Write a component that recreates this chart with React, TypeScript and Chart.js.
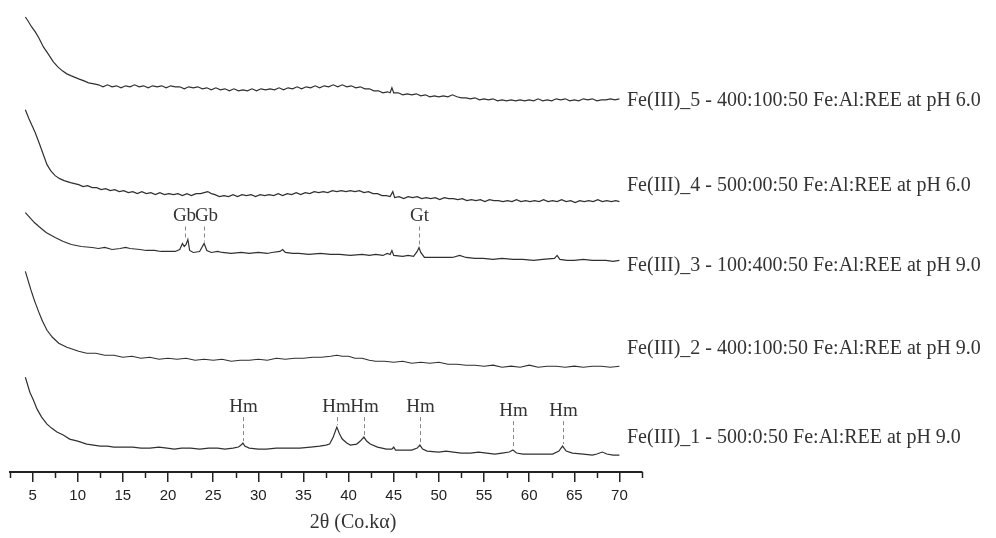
import React, { useEffect, useRef } from "react";
import { Chart, registerables } from "chart.js";

Chart.register(...registerables);

// ---- Data (2θ in degrees, intensity in arbitrary units, stacked offsets included) ----
const twoThetaMin = 2.5;
const twoThetaMax = 72.5;
const tickValues = [5, 10, 15, 20, 25, 30, 35, 40, 45, 50, 55, 60, 65, 70];
const minorTickValues = [2.5, 7.5, 12.5, 17.5, 22.5, 27.5, 32.5, 37.5, 42.5, 47.5, 52.5, 57.5, 62.5, 67.5, 72.5];

const seriesNames = [
  "Fe(III)_5 - 400:100:50 Fe:Al:REE at pH 6.0",
  "Fe(III)_4 - 500:00:50 Fe:Al:REE at pH 6.0",
  "Fe(III)_3 - 100:400:50 Fe:Al:REE at pH 9.0",
  "Fe(III)_2 - 400:100:50 Fe:Al:REE at pH 9.0",
  "Fe(III)_1 - 500:0:50 Fe:Al:REE at pH 9.0",
];

const fe5: [number, number][] = [
  [4.2, 456], [4.5, 452], [4.9, 446], [5.3, 441], [5.7, 435], [6.2, 426], [6.8, 418], [7.3, 411],
  [7.8, 406], [8.3, 402], [8.8, 399], [9.3, 397], [10.1, 394], [10.7, 392], [11.2, 390], [11.8, 389],
  [12.3, 388], [12.8, 386], [13.3, 388], [13.8, 386], [14.3, 387], [14.8, 385], [15.3, 387], [15.8, 386],
  [16.3, 388], [16.8, 386], [17.3, 387], [17.8, 385], [18.3, 387], [18.8, 386], [19.3, 387], [19.8, 385],
  [20.3, 387], [20.8, 386], [21.3, 386], [21.8, 384], [22.3, 386], [22.8, 385], [23.3, 386], [23.8, 384],
  [24.3, 385], [24.8, 383], [25.3, 385], [25.8, 383], [26.3, 384], [26.8, 382], [27.3, 384], [27.8, 382],
  [28.3, 383], [28.8, 382], [29.3, 384], [29.8, 382], [30.3, 384], [30.8, 383], [31.3, 384], [31.8, 383],
  [32.3, 385], [32.8, 383], [33.3, 385], [33.8, 384], [34.3, 386], [34.8, 384], [35.3, 386], [35.8, 385],
  [36.3, 387], [36.8, 385], [37.3, 387], [37.8, 386], [38.3, 388], [38.8, 386], [39.3, 388], [39.8, 386],
  [40.3, 387], [40.8, 385], [41.3, 386], [41.8, 384], [42.3, 384], [42.8, 382], [43.3, 382], [43.8, 380],
  [44.3, 381], [44.6, 380], [44.8, 385], [45.0, 380], [45.5, 380], [46.0, 378], [46.5, 379], [47.0, 378],
  [47.5, 379], [48.0, 377], [48.5, 378], [49.0, 376], [49.5, 377], [50.0, 376], [50.5, 377], [51.0, 376],
  [51.5, 378], [52.0, 376], [52.5, 375], [53.0, 375], [53.5, 374], [54.0, 375], [54.5, 373], [55.0, 374],
  [55.5, 373], [56.0, 374], [56.5, 372], [57.0, 373], [57.5, 372], [58.0, 373], [58.5, 372], [59.0, 373],
  [59.5, 372], [60.0, 373], [60.5, 372], [61.0, 374], [61.5, 372], [62.0, 373], [62.5, 372], [63.0, 374],
  [63.5, 373], [64.0, 374], [64.5, 372], [65.0, 373], [65.5, 372], [66.0, 374], [66.5, 373], [67.0, 374],
  [67.5, 372], [68.0, 373], [68.5, 373], [69.0, 374], [69.5, 373], [70.0, 374],
];

const fe4: [number, number][] = [
  [4.2, 363], [4.6, 354], [5.0, 346], [5.3, 340], [5.8, 328], [6.2, 318], [6.6, 308], [7.0, 302],
  [7.5, 297], [8.0, 294], [8.5, 292], [9.2, 290], [10.1, 288], [10.6, 286], [11.1, 287], [11.6, 285],
  [12.1, 285], [12.6, 283], [13.1, 284], [13.6, 282], [14.1, 283], [14.6, 281], [15.1, 282], [15.6, 280],
  [16.1, 281], [16.6, 279], [17.1, 281], [17.6, 279], [18.1, 280], [18.6, 278], [19.1, 280], [19.6, 278],
  [20.1, 279], [20.6, 278], [21.1, 279], [21.6, 277], [22.1, 279], [22.6, 277], [23.1, 279], [23.6, 279],
  [24.0, 280], [24.4, 281], [24.8, 279], [25.2, 278], [25.7, 276], [26.2, 277], [26.7, 276], [27.2, 278],
  [27.7, 276], [28.2, 278], [28.7, 277], [29.2, 278], [29.7, 276], [30.2, 278], [30.7, 277], [31.2, 278],
  [31.7, 277], [32.2, 279], [32.7, 277], [33.2, 279], [33.7, 278], [34.2, 280], [34.7, 278], [35.2, 280],
  [35.7, 279], [36.2, 281], [36.7, 280], [37.2, 281], [37.7, 280], [38.2, 282], [38.7, 281], [39.2, 282],
  [39.7, 281], [40.2, 282], [40.7, 281], [41.2, 282], [41.7, 280], [42.2, 281], [42.7, 279], [43.2, 279],
  [43.7, 277], [44.2, 277], [44.6, 276], [44.9, 281], [45.1, 275], [45.6, 276], [46.1, 274], [46.6, 276],
  [47.1, 275], [47.6, 276], [48.1, 274], [48.6, 275], [49.1, 274], [49.6, 275], [50.1, 273], [50.6, 275],
  [51.1, 274], [51.6, 274], [52.1, 273], [52.6, 274], [53.1, 272], [53.6, 273], [54.1, 272], [54.6, 273],
  [55.1, 271], [55.6, 273], [56.1, 272], [56.6, 272], [57.1, 271], [57.6, 272], [58.1, 271], [58.6, 273],
  [59.1, 271], [59.6, 272], [60.1, 271], [60.6, 272], [61.1, 271], [61.6, 273], [62.1, 271], [62.6, 272],
  [63.1, 271], [63.6, 273], [64.1, 271], [64.6, 272], [65.1, 270], [65.6, 272], [66.1, 271], [66.6, 272],
  [67.1, 271], [67.6, 273], [68.1, 271], [68.6, 272], [69.1, 271], [69.6, 272], [70.0, 271],
];

const fe3: [number, number][] = [
  [4.2, 260], [4.7, 255], [5.2, 250], [5.7, 246], [6.5, 240], [7.5, 235], [8.4, 231], [9.3, 228],
  [10.4, 226], [11.6, 225], [12.3, 224], [13.0, 225], [13.8, 223], [14.7, 224], [15.3, 225], [15.8, 224],
  [16.9, 223], [17.6, 222], [18.5, 222], [19.2, 221], [20.0, 221], [20.8, 221], [21.3, 223], [21.6, 229],
  [21.8, 226], [22.0, 228], [22.2, 233], [22.4, 222], [22.8, 220], [23.5, 221], [24.0, 229], [24.3, 222],
  [24.8, 220], [25.5, 221], [26.0, 220], [27.0, 219], [28.1, 220], [29.0, 219], [30.0, 220], [31.0, 219],
  [31.5, 220], [32.4, 221], [32.7, 223], [33.0, 220], [33.8, 219], [34.5, 219], [35.6, 218], [36.9, 219],
  [38.0, 218], [39.0, 218], [40.2, 217], [41.5, 218], [42.3, 217], [43.0, 218], [43.8, 217], [44.3, 219],
  [44.6, 218], [44.8, 222], [45.0, 217], [46.0, 216], [46.6, 217], [47.2, 216], [47.6, 221], [47.8, 225],
  [48.0, 220], [48.4, 215], [49.5, 215], [50.3, 215], [51.5, 215], [52.3, 217], [53.0, 215], [54.0, 214],
  [54.9, 214], [56.0, 213], [57.0, 214], [58.2, 213], [59.3, 213], [60.5, 212], [61.5, 213], [62.8, 214],
  [63.1, 217], [63.4, 213], [64.2, 212], [65.0, 212], [66.0, 213], [67.0, 212], [68.5, 212], [69.3, 211],
  [70.0, 212],
];

const fe2: [number, number][] = [
  [4.2, 201], [4.5, 192], [4.8, 183], [5.2, 172], [5.7, 160], [6.1, 151], [6.6, 142], [7.2, 135],
  [7.9, 129], [8.8, 125], [10.1, 121], [11.0, 119], [12.0, 119], [13.0, 117], [14.0, 117], [15.0, 115],
  [16.0, 116], [17.0, 114], [18.0, 115], [19.0, 113], [20.0, 114], [21.0, 113], [22.0, 114], [23.0, 112],
  [24.0, 113], [25.0, 112], [26.0, 113], [27.0, 111], [28.0, 112], [29.0, 112], [30.0, 113], [31.0, 112],
  [32.0, 114], [33.0, 113], [34.0, 114], [35.0, 114], [36.0, 115], [37.0, 115], [38.0, 116], [38.7, 117],
  [39.3, 116], [40.0, 116], [40.7, 114], [41.5, 114], [42.3, 112], [43.0, 111], [44.0, 111], [45.0, 110],
  [46.0, 111], [47.0, 109], [48.0, 110], [49.0, 109], [50.0, 110], [51.0, 108], [52.0, 108], [53.0, 107],
  [54.0, 107], [55.0, 106], [56.0, 107], [57.0, 105], [58.0, 106], [59.0, 105], [60.0, 107], [61.0, 105],
  [62.0, 106], [63.0, 106], [64.0, 105], [65.0, 106], [66.0, 105], [67.0, 106], [68.0, 106], [69.0, 105],
  [70.0, 106],
];

const fe1: [number, number][] = [
  [4.2, 95], [4.7, 80], [5.1, 72], [5.5, 63], [6.0, 55], [6.6, 48], [7.1, 44], [7.7, 40],
  [8.4, 37], [9.1, 33], [10.0, 31], [11.0, 28], [12.5, 26], [13.3, 26], [14.0, 25], [15.0, 25],
  [16.1, 25], [17.0, 24], [18.0, 24], [19.0, 25], [19.9, 24], [20.7, 23], [21.5, 24], [22.5, 24],
  [23.5, 23], [24.5, 24], [25.5, 24], [26.3, 23], [27.2, 24], [27.8, 25], [28.1, 27], [28.3, 29],
  [28.5, 26], [29.0, 24], [30.0, 23], [30.9, 23], [32.0, 24], [33.0, 24], [34.6, 24], [35.8, 25],
  [36.8, 26], [37.5, 27], [37.9, 28], [38.3, 35], [38.7, 45], [39.0, 38], [39.3, 33], [39.8, 29],
  [40.2, 27], [40.9, 28], [41.3, 31], [41.7, 35], [42.0, 31], [42.4, 28], [43.2, 25], [44.2, 23],
  [44.8, 23], [45.0, 25], [45.2, 22], [46.0, 22], [47.0, 22], [47.6, 24], [47.9, 27], [48.2, 23],
  [48.7, 21], [50.0, 20], [50.8, 21], [51.6, 20], [52.5, 19], [53.5, 19], [54.4, 20], [55.3, 19],
  [56.2, 18], [57.0, 19], [57.8, 20], [58.2, 22], [58.6, 19], [59.3, 18], [60.0, 18], [61.0, 18],
  [62.0, 18], [62.6, 18], [63.3, 21], [63.7, 26], [64.1, 21], [64.8, 19], [66.0, 18], [67.0, 17],
  [67.5, 18], [68.1, 20], [68.6, 18], [69.3, 17], [70.0, 17],
];

const allSeries = [fe5, fe4, fe3, fe2, fe1];

// phase markers: label, 2θ, series index
const phaseLabels = ["Gb", "Gb", "Gt", "Hm", "Hm", "Hm", "Hm", "Hm", "Hm"];
const phaseAngles = [21.9, 24.0, 47.8, 28.3, 38.7, 41.7, 47.9, 58.2, 63.7];
const phaseSeries = [2, 2, 2, 4, 4, 4, 4, 4, 4];

// ---- Layout constants (not data) ----
const seriesLabelLevels = [372, 287, 207, 124, 34];
const markerTopLevels = [246, 246, 246, 55, 55, 55, 55, 51, 51];
const markerTextShift = [-1, 2, 0, 0, -1, 0, 0, 0, 0];
const axisTitleAt = 40.5;

const annotate = {
  id: "xrdAnnotate",
  afterDraw(chart: any) {
    const ctx = chart.ctx as CanvasRenderingContext2D;
    const xs = chart.scales.x;
    const ys = chart.scales.y;
    const bottom = chart.chartArea.bottom;
    ctx.save();
    // minor ticks
    ctx.strokeStyle = "#222";
    ctx.lineWidth = 1.5;
    for (const v of minorTickValues) {
      const x = Math.round(xs.getPixelForValue(v)) + 0.5;
      ctx.beginPath();
      ctx.moveTo(x, bottom);
      ctx.lineTo(x, bottom + 6);
      ctx.stroke();
    }
    // phase markers
    ctx.font = '19px "Liberation Serif"';
    ctx.fillStyle = "#333";
    ctx.textAlign = "center";
    ctx.textBaseline = "bottom";
    for (let i = 0; i < phaseLabels.length; i++) {
      const s = allSeries[phaseSeries[i]];
      let peak = -Infinity;
      for (const [x, y] of s) if (Math.abs(x - phaseAngles[i]) <= 0.35 && y > peak) peak = y;
      const px = Math.round(xs.getPixelForValue(phaseAngles[i])) + 0.5;
      const yPeak = ys.getPixelForValue(peak) - 2;
      const yTop = ys.getPixelForValue(markerTopLevels[i]);
      ctx.strokeStyle = "#888";
      ctx.lineWidth = 1;
      ctx.setLineDash([4, 3]);
      ctx.beginPath();
      ctx.moveTo(px, yTop);
      ctx.lineTo(px, yPeak);
      ctx.stroke();
      ctx.setLineDash([]);
      ctx.fillText(phaseLabels[i], px + markerTextShift[i], yTop - 1);
    }
    // series labels
    ctx.font = '20px "Liberation Serif"';
    ctx.fillStyle = "#333";
    ctx.textAlign = "left";
    ctx.textBaseline = "middle";
    for (let i = 0; i < seriesNames.length; i++) {
      ctx.fillText(seriesNames[i], xs.right - 15, ys.getPixelForValue(seriesLabelLevels[i]));
    }
    // axis title
    ctx.textAlign = "center";
    ctx.fillText("2θ (Co.kα)", xs.getPixelForValue(axisTitleAt), bottom + 51);
    ctx.restore();
  },
};

export default function App() {
  const ref = useRef<HTMLCanvasElement>(null);
  useEffect(() => {
    document.body.style.margin = "0";
    const chart = new Chart(ref.current!, {
      type: "line",
      data: {
        datasets: allSeries.map((s, i) => ({
          label: seriesNames[i],
          data: s.map(([x, y]) => ({ x, y })),
          borderColor: "#303030",
          borderWidth: 1.2,
          pointRadius: 0,
          tension: 0,
          fill: false,
        })),
      },
      options: {
        animation: false,
        responsive: false,
        devicePixelRatio: 1,
        parsing: false as any,
        layout: { padding: { left: 10, right: 354, top: 3, bottom: 28 } },
        plugins: { legend: { display: false }, tooltip: { enabled: false } },
        scales: {
          x: {
            type: "linear",
            min: twoThetaMin,
            max: twoThetaMax,
            afterBuildTicks: (scale: any) => {
              scale.ticks = tickValues.map((v) => ({ value: v }));
            },
            ticks: {
              autoSkip: false,
              maxRotation: 0,
              padding: 5,
              color: "#222",
              font: { family: "Liberation Sans", size: 15 },
            },
            grid: { drawOnChartArea: false, drawTicks: true, tickLength: 10, color: "#222", lineWidth: 1.5 },
            border: { display: true, color: "#222", width: 2 },
          },
          y: { display: false, min: 0, max: 470 },
        },
      },
      plugins: [annotate],
    });
    return () => chart.destroy();
  }, []);
  return (
    <div style={{ width: 996, height: 538, background: "#fff" }}>
      <canvas ref={ref} width={996} height={538} />
    </div>
  );
}
